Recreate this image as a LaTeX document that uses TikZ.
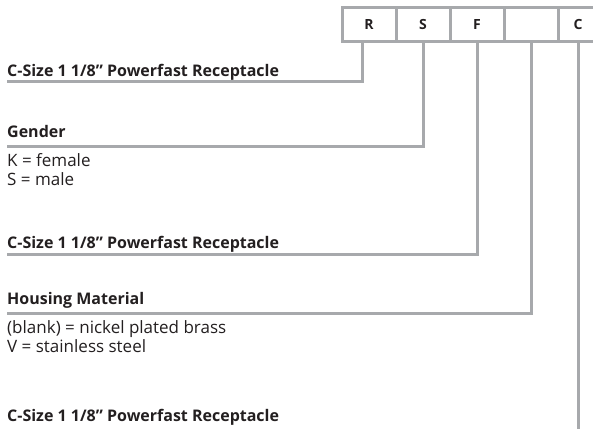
\documentclass[tikz,border=0pt]{standalone}
\usepackage{fontspec}
\setmainfont{Open Sans}
\usetikzlibrary{positioning}
\definecolor{rule}{HTML}{A7A9AC}
\definecolor{ink}{HTML}{231F20}
\tikzset{
  cell/.style={draw=rule, line width=3pt, outer sep=0pt, minimum width=54pt,
    minimum height=34pt, inner sep=0pt, text=ink, font=\bfseries\fontsize{14}{14}\selectfont},
  title/.style={anchor=base west, inner sep=0pt, text=ink, font=\bfseries\fontsize{16}{18}\selectfont},
  entry/.style={anchor=base west, inner sep=0pt, text=ink, font=\fontsize{17}{19}\selectfont},
  lead/.style={draw=rule, line width=3pt},
}
\begin{document}
\begin{tikzpicture}[x=1pt,y=-1pt]
        \useasboundingbox (0,0) rectangle (593,429);
        \clip (0,0) rectangle (593,429);
        % code boxes
        \node[cell] (cR) at (369,24) {R};
        \node[cell, right=0pt of cR] (cS) {S};
        \node[cell, right=0pt of cS] (cF) {F};
        \node[cell, right=0pt of cF] (cV) {};
        \node[cell, minimum width=40pt, right=0pt of cV] (cC) {C};
        % titles and entries
        \node[title] (t1) at (7,76) {C-Size 1 1/8” Powerfast Receptacle};
        \node[title] (t2) at (7,137) {Gender};
        \node[entry] (e2a) at (7,166) {K = female};
        \node[entry] (e2b) at (7,185) {S = male};
        \node[title] (t3) at (7,248) {C-Size 1 1/8” Powerfast Receptacle};
        \node[title] (t4) at (7,304) {Housing Material};
        \node[entry] (e4a) at (7,333) {(blank) = nickel plated brass};
        \node[entry] (e4b) at (7,352) {V = stainless steel};
        \node[title] (t5) at (7,421) {C-Size 1 1/8” Powerfast Receptacle};
        \coordinate (u1) at (7,81);
        \coordinate (u2) at (7,146);
        \coordinate (u3) at (7,254);
        \coordinate (u4) at (7,313);
        \coordinate (u5) at (cC.south |- 0,429);
        % leader lines
        \draw[lead] ([xshift=-7pt]cR.south) |- (u1);
        \draw[lead] (cS.south) |- (u2);
        \draw[lead] (cF.south) |- (u3);
        \draw[lead] (cV.south) |- (u4);
        \draw[lead] (cC.south) -- (u5);
    \end{tikzpicture}
\end{document}
